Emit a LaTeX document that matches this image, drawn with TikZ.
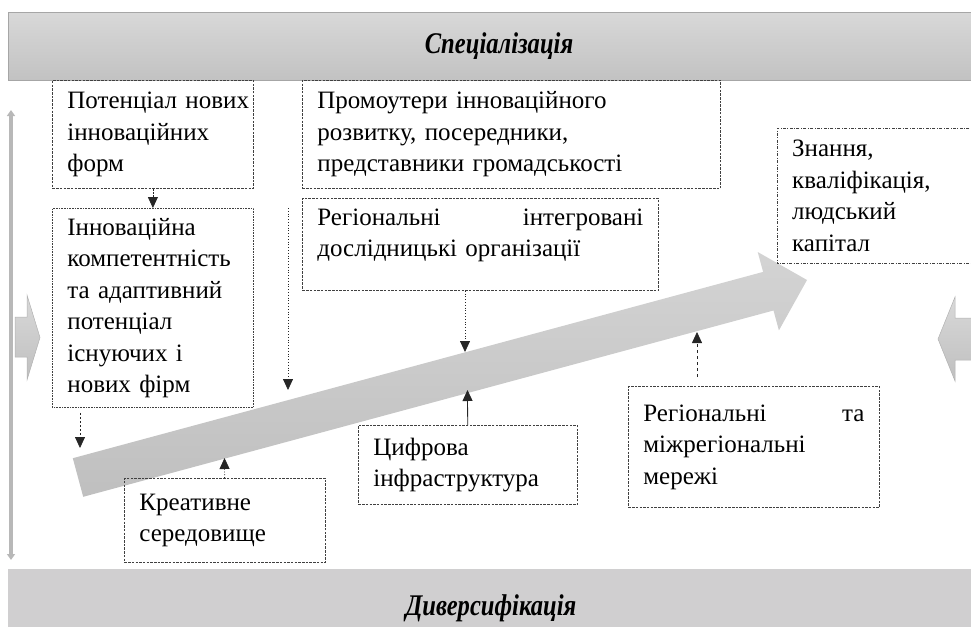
\documentclass[tikz,border=0pt]{standalone}
\usepackage{fontspec}
\setmainfont{Liberation Serif}
\newfontfamily\headfont[FakeStretch=0.82]{Liberation Serif}
\usepackage{xcolor}
\usetikzlibrary{arrows.meta}

\definecolor{bandtop}{HTML}{D8D8D8}
\definecolor{bandbot}{HTML}{C2C2C2}
\definecolor{bandlow}{HTML}{D0CFD0}
\definecolor{edgegray}{HTML}{404040}

\begin{document}
\begin{tikzpicture}[x=1pt, y=-1pt,
    txt/.style={font=\fontsize{25}{31.5}\selectfont, align=left, inner sep=0pt, anchor=north west},
    dashbox/.style={txt, draw=edgegray, line width=0.8pt, dash pattern=on 2.5pt off 1.2pt},
    dotbox/.style={txt, draw=edgegray, line width=0.8pt, dash pattern=on 0.8pt off 0.8pt},
    dashdot/.style={draw=edgegray, line width=0.8pt, dash pattern=on 3pt off 1.5pt on 0.8pt off 1.5pt},
    link/.style={-{Triangle[length=11pt,width=10pt]}, black!85, line width=0.8pt},
    head/.style={font=\headfont\fontsize{30}{34}\selectfont\bfseries\itshape}
]
    \useasboundingbox (0,0) rectangle (971,626);

    % bands
    \shade[top color=bandtop, bottom color=bandbot] (8,13) rectangle (980,80);
    \draw[black!35, line width=1pt] (980,13) -- (8,13) -- (8,80) -- (980,80);
    \node[head] (spec) at (499,46) {Спеціалізація};
    \fill[bandlow] (8,569) rectangle (980,640);
    \node[head] (divers) at (491,608) {Диверсифікація};

    % side arrows
    \draw[{Triangle[length=6pt,width=8pt]}-{Triangle[length=6pt,width=8pt]}, black!28, line width=3.5pt] (11,110) -- (11,560);
    \shade[top color=black!15, bottom color=black!25, draw=black!30, line width=0.5pt] (15,317) -- (27,317) -- (27,295) -- (40,337.5) -- (27,380) -- (27,357) -- (15,357) -- cycle;
    \shade[top color=black!15, bottom color=black!25, draw=black!30, line width=0.5pt] (980,318) -- (955,318) -- (955,297) -- (938,339) -- (955,381) -- (955,360) -- (980,360) -- cycle;

    % main arrow
    \shade[top color=black!17, bottom color=black!25] (72.8,458.2) -- (763.1,271.9) -- (757.7,252.0) -- (807,280) -- (778.9,330.4) -- (773.5,310.5) -- (83.2,496.8) -- cycle;
    \coordinate (t1) at (80,448);
    \coordinate (f1) at (288,208);
    \coordinate (t2) at (288,390);
    \coordinate (t3) at (465,352);
    \coordinate (t4) at (467.5,390);
    \coordinate (t5) at (224.5,458);
    \coordinate (t6) at (697,332);

    % boxes
    \node[dashbox, minimum width=201pt, minimum height=108pt, text width=171pt] (potential) at (52,80) {Потенціал~нових\\інноваційних\\форм};
    \node[dotbox, minimum width=201pt, minimum height=199pt, text width=171pt] (competence) at (52,208) {Інноваційна\\компетентність\\та~адаптивний\\потенціал\\існуючих~і\\нових~фірм};
    \node[dashbox, minimum width=418pt, minimum height=108pt, text width=388pt] (promoters) at (302,80) {Промоутери~інноваційного\\розвитку, посередники,\\представники~громадськості};
    \node[dashbox, minimum width=356pt, minimum height=92pt, text width=326pt] (research) at (302,198) {Регіональні\hfill інтегровані\\дослідницькі~організації\\[-8pt]\mbox{}};
    \node[txt, minimum width=260pt, minimum height=135pt, text width=230pt] (knowledge) at (777,128) {Знання,\\кваліфікація,\\людський\\капітал};
    \draw[dashdot] (knowledge.north east) -- (knowledge.north west) -- (knowledge.south west) -- (knowledge.south east);
    \node[dashbox, minimum width=201pt, minimum height=84pt, text width=171pt] (creative) at (124,478) {Креативне\\середовище};
    \node[dashbox, minimum width=219pt, minimum height=79pt, text width=189pt] (digital) at (358,425) {Цифрова\\інфраструктура};
    \node[dashbox, minimum width=251pt, minimum height=121pt, text width=221pt] (networks) at (628,386) {Регіональні\hfill та\\міжрегіональні\\мережі};

    % links
    \draw[link, dash pattern=on 2pt off 1pt] (potential) -- (competence);
    \draw[link, dash pattern=on 2.5pt off 1.5pt, shorten <=5pt] (t1 |- competence.south) -- (t1);
    \draw[link, dotted] (f1) -- (t2);
    \draw[link, dotted] (t3 |- research.south) -- (t3);
    \draw[link] (digital) -- (t4);
    \draw[link, dotted] (creative) -- (t5);
    \draw[link, dashed, shorten <=9pt] (t6 |- networks.north) -- (t6);
\end{tikzpicture}
\end{document}
